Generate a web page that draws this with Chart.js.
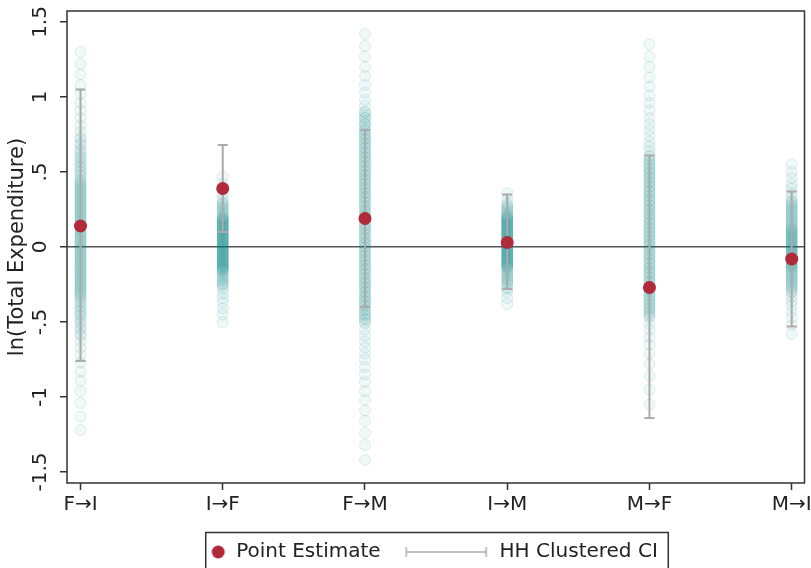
<!DOCTYPE html>
<html>
<head>
<meta charset="utf-8">
<script src="https://cdn.jsdelivr.net/npm/chart.js@4/dist/chart.umd.min.js"></script>
<style>
html,body{margin:0;padding:0;background:#fff;}
canvas{display:block;}
</style>
</head>
<body>
<canvas id="c" width="811" height="568"></canvas>
<script>
// ---- data ----
const categories = ['F\u2192I', 'I\u2192F', 'F\u2192M', 'I\u2192M', 'M\u2192F', 'M\u2192I'];
const pointEstimates = [0.14, 0.39, 0.19, 0.03, -0.27, -0.08];
const ciLow  = [-0.76, 0.10, -0.40, -0.28, -1.14, -0.53];
const ciHigh = [1.05, 0.68, 0.78, 0.35, 0.61, 0.37];
const yTickValues = [-1.5, -1, -0.5, 0, 0.5, 1, 1.5];
const yTickLabels = ['-1.5', '-1', '-.5', '0', '.5', '1', '1.5'];

// placebo / permutation estimates (hollow teal circles), one list per category
const distFI = [1.3,1.22,1.15,1.08,1.02,0.96,0.91,0.86,0.81,0.77,0.73,0.69,0.65,0.62,0.59,0.56,0.53,0.5,0.47,
  0.45,0.43,0.41,0.39,0.37,0.35,0.33,0.31,0.29,0.27,0.25,0.23,0.21,0.19,0.17,0.15,0.13,0.11,0.09,0.07,0.05,0.03,0.01,
  -0.01,-0.03,-0.05,-0.07,-0.09,-0.11,-0.13,-0.15,-0.17,-0.19,-0.21,-0.23,-0.25,-0.27,-0.29,-0.31,-0.33,
  -0.36,-0.39,-0.42,-0.45,-0.48,-0.51,-0.55,-0.59,-0.63,-0.67,-0.72,-0.77,-0.83,-0.89,-0.96,-1.04,-1.13,-1.22,
  0.72,0.68,0.64,0.6,0.57,0.54,0.51,0.48,-0.37,-0.4,-0.43,-0.46,-0.5,-0.54,-0.58,
  0.44,0.42,0.4,0.38,0.36,0.34,0.32,0.3,0.28,0.26,0.24,0.22,0.2,0.18,0.16,0.14,0.12,0.1,0.08,0.06,0.04,0.02,0,
  -0.02,-0.04,-0.06,-0.08,-0.1,-0.12,-0.14,-0.16,-0.18,-0.2,-0.22,-0.24,-0.26,-0.28,-0.3,-0.32,-0.34];
const distIF = [0.47,0.42,0.38,0.35,0.32,0.3,0.28,0.26,0.24,0.22,0.2,0.19,0.18,0.17,0.16,0.15,0.14,0.13,0.12,0.11,0.1,
  0.09,0.08,0.07,0.06,0.05,0.04,0.03,0.02,0.01,0,-0.01,-0.02,-0.03,-0.04,-0.05,-0.06,-0.07,-0.08,-0.09,-0.1,-0.11,
  -0.12,-0.13,-0.14,-0.15,-0.16,-0.18,-0.2,-0.22,-0.24,-0.26,-0.28,-0.31,-0.34,-0.37,-0.41,-0.45,-0.5,
  0.29,0.27,0.25,0.23,0.21,0.195,0.185,0.175,0.165,0.155,0.145,0.135,0.125,0.115,0.105,0.095,0.085,0.075,0.065,0.055,
  0.045,0.035,0.025,0.015,0.005,-0.005,-0.015,-0.025,-0.035,-0.045,-0.055,-0.065,-0.075,-0.085,-0.095,-0.105,-0.115,
  -0.125,-0.135,-0.145,-0.155,-0.17,-0.19,-0.21,-0.23,-0.25];
const distFM = [1.42,1.34,1.27,1.2,1.14,1.08,1.03,0.98,0.94,0.9,0.86,0.82,0.78,0.75,0.72,0.69,0.66,0.63,0.6,0.57,0.54,
  0.51,0.48,0.45,0.42,0.39,0.36,0.33,0.3,0.27,0.24,0.21,0.18,0.15,0.12,0.09,0.06,0.03,0,-0.03,-0.06,-0.09,-0.12,-0.15,
  -0.18,-0.21,-0.24,-0.27,-0.3,-0.33,-0.36,-0.39,-0.42,-0.45,-0.48,-0.51,-0.55,-0.59,-0.63,-0.67,-0.71,-0.75,-0.8,
  -0.85,-0.9,-0.96,-1.02,-1.09,-1.16,-1.24,-1.32,-1.42,
  0.9,0.88,0.86,0.84,0.82,0.8,0.78,0.76,0.74,0.72,0.7,0.68,0.66,0.64,0.62,0.6,0.58,0.56,0.54,0.52,0.5,0.48,0.46,0.44,
  0.42,0.4,0.38,0.36,0.34,0.32,0.3,0.28,0.26,0.24,0.22,0.2,0.18,0.16,0.14,0.12,0.1,0.08,0.06,0.04,0.02,0,-0.02,-0.04,
  -0.06,-0.08,-0.1,-0.12,-0.14,-0.16,-0.18,-0.2,-0.22,-0.24,-0.26,-0.28,-0.3,-0.32,-0.34,-0.36,-0.38,-0.4,-0.42,-0.44,
  -0.46,-0.48,-0.5];
const distIM = [0.36,0.32,0.29,0.27,0.25,0.23,0.21,0.2,0.19,0.18,0.17,0.16,0.15,0.14,0.13,0.12,0.11,0.1,0.09,0.08,0.07,
  0.06,0.05,0.04,0.03,0.02,0.01,0,-0.01,-0.02,-0.03,-0.04,-0.05,-0.06,-0.07,-0.08,-0.09,-0.1,-0.11,-0.12,-0.13,-0.14,
  -0.16,-0.18,-0.2,-0.22,-0.24,-0.27,-0.3,-0.34,-0.38,
  0.28,0.26,0.24,0.22,0.205,0.195,0.185,0.175,0.165,0.155,0.145,0.135,0.125,0.115,0.105,0.095,0.085,0.075,0.065,0.055,
  0.045,0.035,0.025,0.015,0.005,-0.005,-0.015,-0.025,-0.035,-0.045,-0.055,-0.065,-0.075,-0.085,-0.095,-0.105,-0.115,
  -0.125,-0.135,-0.15,-0.17,-0.19,-0.21,-0.23,-0.25,-0.28];
const distMF = [1.35,1.27,1.2,1.13,1.07,1.01,0.96,0.91,0.86,0.82,0.78,0.74,0.7,0.67,0.64,0.61,0.58,0.55,0.52,0.49,0.46,
  0.43,0.4,0.37,0.34,0.31,0.28,0.25,0.22,0.19,0.16,0.13,0.1,0.07,0.04,0.01,-0.02,-0.05,-0.08,-0.11,-0.14,-0.17,-0.2,
  -0.23,-0.26,-0.29,-0.32,-0.35,-0.38,-0.41,-0.44,-0.47,-0.51,-0.55,-0.6,-0.65,-0.71,-0.78,-0.86,-0.95,-1.05,
  0.6,0.58,0.56,0.54,0.52,0.5,0.48,0.46,0.44,0.42,0.4,0.38,0.36,0.34,0.32,0.3,0.28,0.26,0.24,0.22,0.2,0.18,0.16,0.14,
  0.12,0.1,0.08,0.06,0.04,0.02,0,-0.02,-0.04,-0.06,-0.08,-0.1,-0.12,-0.14,-0.16,-0.18,-0.2,-0.22,-0.24,-0.26,-0.28,
  -0.3,-0.32,-0.34,-0.36,-0.38,-0.4,-0.42,-0.44,-0.46];
const distMI = [0.55,0.5,0.46,0.42,0.39,0.36,0.33,0.31,0.29,0.27,0.25,0.23,0.21,0.19,0.17,0.15,0.13,0.11,0.09,0.07,0.05,
  0.03,0.01,-0.01,-0.03,-0.05,-0.07,-0.09,-0.11,-0.13,-0.15,-0.17,-0.19,-0.21,-0.23,-0.25,-0.27,-0.3,-0.33,-0.36,-0.39,
  -0.43,-0.47,-0.52,-0.58,
  0.3,0.28,0.26,0.24,0.22,0.2,0.18,0.16,0.14,0.12,0.1,0.08,0.06,0.04,0.02,0,-0.02,-0.04,-0.06,-0.08,-0.1,-0.12,-0.14,
  -0.16,-0.18,-0.2,-0.22,-0.24,-0.26,-0.28,-0.3,0.125,0.105,0.085,0.065,0.045,0.025,0.005,-0.015,-0.035,-0.055,-0.075,
  -0.095,-0.115,-0.135];
const distributions = [distFI, distIF, distFM, distIM, distMF, distMI];

// ---- styles ----
const RED = '#b02a3a';
const GREY = '#ababab';
const TEAL_LINE = 'rgba(0,128,128,0.12)';
const TEAL_FILL = 'rgba(0,128,128,0.06)';
const INK = '#222';
const FONT = 'DejaVu Sans';

const tealPoints = [];
distributions.forEach((list, i) => list.forEach(v => tealPoints.push({x: i, y: v})));
const estPoints = pointEstimates.map((v, i) => ({x: i, y: v}));

// legend symbols
function makeDot() {
  const c = document.createElement('canvas'); c.width = 79; c.height = 20;
  const g = c.getContext('2d'); g.fillStyle = RED; g.beginPath(); g.arc(71, 10, 6.5, 0, Math.PI * 2); g.fill();
  return c;
}
function makeCI() {
  const c = document.createElement('canvas'); c.width = 91; c.height = 20;
  const g = c.getContext('2d'); g.strokeStyle = GREY; g.lineWidth = 1.5;
  g.beginPath(); g.moveTo(1, 10); g.lineTo(82, 10);
  g.moveTo(1.5, 5); g.lineTo(1.5, 15); g.moveTo(81.5, 5); g.lineTo(81.5, 15); g.stroke();
  return c;
}
const dotImg = makeDot();
const ciImg = makeCI();

const errorBars = {
  id: 'errorBars',
  afterDatasetDraw(chart, args) {
    if (args.index !== 0) return;
    const {ctx, scales: {x, y}} = chart;
    ctx.save();
    ctx.strokeStyle = GREY; ctx.lineWidth = 2;
    categories.forEach((_, i) => {
      const px = x.getPixelForValue(i);
      const lo = y.getPixelForValue(ciLow[i]);
      const hi = y.getPixelForValue(ciHigh[i]);
      ctx.beginPath();
      ctx.moveTo(px, lo); ctx.lineTo(px, hi);
      ctx.moveTo(px - 5, lo); ctx.lineTo(px + 5, lo);
      ctx.moveTo(px - 5, hi); ctx.lineTo(px + 5, hi);
      ctx.stroke();
    });
    ctx.restore();
  }
};

const frame = {
  id: 'frame',
  afterDraw(chart) {
    const {ctx, chartArea: a} = chart;
    ctx.save();
    ctx.strokeStyle = '#333'; ctx.lineWidth = 1.5;
    ctx.strokeRect(a.left, a.top, a.right - a.left, a.bottom - a.top);
    const lg = chart.legend;
    if (lg && lg.legendHitBoxes && lg.legendHitBoxes.length === 2) {
      const hb = lg.legendHitBoxes;
      const left = hb[0].left + 58;
      const right = hb[1].left + hb[1].width + 10;
      const top = hb[0].top + 10 - 20;
      ctx.strokeRect(left + 0.5, top + 0.5, right - left, 100);
    }
    ctx.restore();
  }
};

new Chart(document.getElementById('c'), {
  type: 'scatter',
  data: {
    datasets: [
      {
        label: 'Placebo estimates',
        data: tealPoints,
        pointStyle: 'circle',
        pointRadius: 5.5,
        pointBorderWidth: 1,
        pointBorderColor: TEAL_LINE,
        pointBackgroundColor: TEAL_FILL,
        order: 3
      },
      {
        label: 'Point Estimate',
        data: estPoints,
        pointRadius: 6.5,
        pointBorderWidth: 0,
        pointBackgroundColor: RED,
        pointBorderColor: RED,
        order: 1
      }
    ]
  },
  options: {
    responsive: false,
    animation: false,
    devicePixelRatio: 1,
    layout: {padding: {left: 0, right: 6, top: 11, bottom: -4}},
    plugins: {
      tooltip: {enabled: false},
      legend: {
        display: true,
        position: 'bottom',
        labels: {
          usePointStyle: true,
          pointStyleWidth: 79,
          padding: 30,
          color: INK,
          font: {family: FONT, size: 20},
          generateLabels() {
            return [
              {text: 'Point Estimate', pointStyle: dotImg, fontColor: INK, hidden: false, datasetIndex: 1, lineWidth: 0, strokeStyle: 'rgba(0,0,0,0)', fillStyle: RED},
              {text: 'HH Clustered CI', pointStyle: ciImg, fontColor: INK, hidden: false, datasetIndex: 0, lineWidth: 0, strokeStyle: 'rgba(0,0,0,0)', fillStyle: GREY}
            ];
          }
        },
        onClick() {}
      }
    },
    scales: {
      x: {
        type: 'linear',
        min: -0.095,
        max: 5.09,
        afterBuildTicks(scale) { scale.ticks = categories.map((_, i) => ({value: i})); },
        afterFit(scale) { scale.height = 29; scale.paddingLeft = 0; scale.paddingRight = 0; },
        ticks: {
          autoSkip: false,
          maxRotation: 0,
          minRotation: 0,
          padding: 3,
          color: INK,
          font: {family: FONT, size: 20},
          callback(value, index) { return categories[index]; }
        },
        grid: {drawOnChartArea: false, drawTicks: true, tickLength: 7, tickColor: '#333', tickWidth: 1.5},
        border: {display: false}
      },
      y: {
        type: 'linear',
        min: -1.573,
        max: 1.573,
        afterBuildTicks(scale) { scale.ticks = yTickValues.map(v => ({value: v})); },
        afterFit(scale) { scale.width = 67; scale.paddingTop = 0; scale.paddingBottom = 0; },
        ticks: {
          minRotation: 90,
          maxRotation: 90,
          crossAlign: 'center',
          padding: 0,
          color: INK,
          font: {family: FONT, size: 20},
          callback(value, index) { return yTickLabels[index]; }
        },
        grid: {
          drawTicks: true,
          tickLength: 7,
          tickColor: '#333',
          tickWidth: 1.5,
          lineWidth: 1.5,
          color(ctx) { return ctx.tick && ctx.tick.value === 0 ? '#555' : 'rgba(0,0,0,0)'; }
        },
        border: {display: false},
        title: {
          display: true,
          text: 'ln(Total Expenditure)',
          color: INK,
          font: {family: FONT, size: 21},
          padding: {top: 5, bottom: 0}
        }
      }
    }
  },
  plugins: [errorBars, frame]
});
</script>
</body>
</html>
